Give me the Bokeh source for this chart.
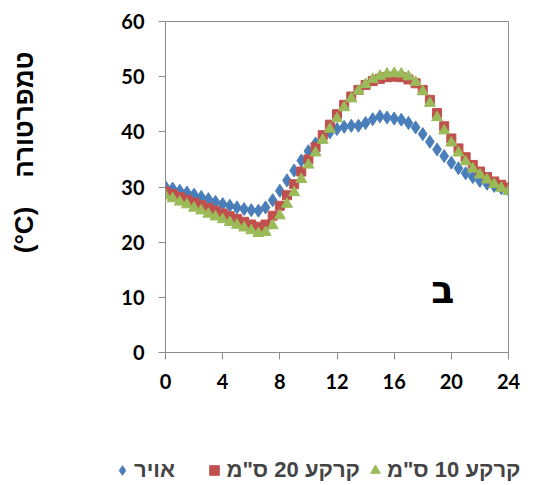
import math
from bokeh.plotting import figure
from bokeh.layouts import row, column
from bokeh.models import Label, Legend, LegendItem, FixedTicker, Range1d
from bokeh.embed import file_html
from bokeh.resources import INLINE

hours = [0, 0.5, 1, 1.5, 2, 2.5, 3, 3.5, 4, 4.5, 5, 5.5, 6, 6.5, 7, 7.5, 8, 8.5,
         9, 9.5, 10, 10.5, 11, 11.5, 12, 12.5, 13, 13.5, 14, 14.5, 15, 15.5, 16,
         16.5, 17, 17.5, 18, 18.5, 19, 19.5, 20, 20.5, 21, 21.5, 22, 22.5, 23,
         23.5, 24]

air = [30.0, 29.7, 29.3, 29.0, 28.6, 28.2, 27.8, 27.3, 26.9, 26.6, 26.3, 26.0,
       25.8, 25.7, 26.3, 27.6, 29.3, 31.2, 33.0, 34.8, 36.5, 37.9, 39.0, 39.9,
       40.5, 40.9, 41.1, 41.1, 41.6, 42.3, 42.8, 42.6, 42.4, 42.2, 41.6, 40.8,
       39.6, 38.2, 36.8, 35.6, 34.4, 33.4, 32.5, 31.8, 31.1, 30.6, 30.2, 29.8,
       29.5]

soil20 = [29.2, 28.7, 28.2, 27.7, 27.2, 26.7, 26.2, 25.7, 25.2, 24.7, 24.2, 23.7,
          23.2, 22.8, 23.2, 24.8, 26.6, 28.5, 30.5, 32.8, 35.0, 37.2, 39.4, 41.3,
          43.2, 44.9, 46.4, 47.6, 48.5, 49.2, 49.6, 49.9, 50.0, 49.9, 49.5, 48.8,
          47.6, 45.8, 43.4, 41.0, 38.8, 37.0, 35.4, 34.0, 32.8, 31.8, 31.0, 30.4,
          29.9]

soil10 = [28.4, 27.9, 27.3, 26.8, 26.2, 25.7, 25.1, 24.6, 24.1, 23.6, 23.1, 22.6,
          22.1, 21.6, 21.8, 23.0, 24.8, 26.9, 29.0, 31.4, 34.0, 36.2, 38.5, 40.5,
          42.4, 44.4, 46.0, 47.4, 48.6, 49.5, 50.1, 50.5, 50.6, 50.5, 50.0, 49.0,
          47.3, 45.2, 42.6, 40.2, 38.0, 36.2, 34.6, 33.3, 32.2, 31.3, 30.5, 29.8,
          29.2]

x_ticks = [0, 4, 8, 12, 16, 20, 24]
y_ticks = [0, 10, 20, 30, 40, 50, 60]
series_names = ["אויר", 'קרקע 20 ס"מ', 'קרקע 10 ס"מ']
series_colors = ["#4a7ebb", "#c0504d", "#9bbb59"]
NB = "\u00a0"
y_title = "(°C)" + NB * 4 + "טמפרטורה"
panel_letter = "ב"
nan = float("nan")

# ---- left strip with the rotated y-axis title (reads bottom to top)
p0 = figure(width=52, height=430, output_backend="svg", toolbar_location=None,
            x_range=Range1d(0, 52), y_range=Range1d(0, 430),
            x_axis_type=None, y_axis_type=None, min_border=0)
p0.outline_line_color = None
p0.grid.visible = False
p0.add_layout(Label(x=23, y=129, text=y_title, angle=math.pi / 2,
                    text_align="left", text_baseline="middle",
                    text_font="Liberation Sans", text_font_style="bold",
                    text_font_size="26px", text_color="black"))

# ---- main chart
p = figure(width=481, height=430, output_backend="svg", toolbar_location=None,
           x_range=Range1d(0, 24), y_range=Range1d(0, 60),
           min_border_left=113, min_border_right=25, min_border_top=21,
           min_border_bottom=78)
p.background_fill_color = "white"
p.border_fill_color = "white"
p.outline_line_color = "#8c8c8c"
p.grid.visible = False

for ax, ticks in ((p.xaxis, x_ticks), (p.yaxis, y_ticks)):
    ax.ticker = FixedTicker(ticks=ticks)
    ax.minor_tick_line_color = None
    ax.axis_line_color = "#8c8c8c"
    ax.major_tick_line_color = "#8c8c8c"
    ax.major_tick_in = 0
    ax.major_tick_out = 7
    ax.major_label_text_font = "Lato"
    ax.major_label_text_font_style = "bold"
    ax.major_label_text_font_size = "20px"
    ax.major_label_text_color = "black"
    ax.major_label_standoff = 14

p.scatter(hours, air, marker="diamond", size=13, color=series_colors[0])
p.scatter(hours, soil20, marker="square", size=9, color=series_colors[1])
p.scatter(hours, soil10, marker="triangle", size=11, color=series_colors[2])

p.add_layout(Label(x=19.4, y=11.4, text=panel_letter, text_align="center",
                   text_baseline="middle", text_font="DejaVu Sans",
                   text_font_style="bold", text_font_size="38px",
                   text_color="black"))

# ---- legend strip at the bottom
p2 = figure(width=533, height=55, output_backend="svg", toolbar_location=None,
            x_range=Range1d(0, 1), y_range=Range1d(0, 1),
            x_axis_type=None, y_axis_type=None, min_border=0)
p2.outline_line_color = None
p2.grid.visible = False
k_air = p2.scatter([nan], [nan], marker="diamond", size=10, color=series_colors[0])
k_20 = p2.scatter([nan], [nan], marker="square", size=10, color=series_colors[1])
k_10 = p2.scatter([nan], [nan], marker="triangle", size=10, color=series_colors[2])
legend = Legend(items=[LegendItem(label=series_names[0] + NB * 4, renderers=[k_air]),
                       LegendItem(label=series_names[1], renderers=[k_20]),
                       LegendItem(label=series_names[2], renderers=[k_10])],
                orientation="horizontal", location=(110, 2),
                border_line_color=None, background_fill_alpha=0,
                label_text_font="Liberation Sans", label_text_font_style="bold",
                label_text_font_size="22px", glyph_width=24, glyph_height=24,
                label_standoff=0, spacing=3, padding=0, margin=0)
p2.add_layout(legend)

layout = column(row(p0, p), p2)
open("out.html", "w").write(file_html(layout, INLINE))
